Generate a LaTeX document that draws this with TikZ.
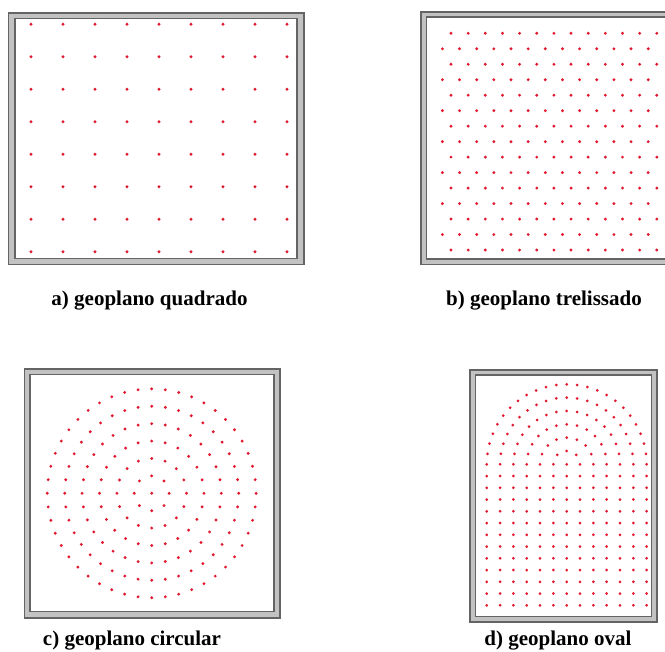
\documentclass[tikz,border=0pt]{standalone}
\usepackage{fontspec}
\setmainfont{Liberation Serif}

\definecolor{corpino}{RGB}{226,24,46}
\definecolor{cinzaclaro}{RGB}{194,194,194}
\definecolor{cinzaescuro}{RGB}{100,100,100}

\tikzstyle{every node}=[font=\bfseries\fontsize{21}{25}\selectfont]
\tikzstyle{moldura}=[fill=cinzaclaro, draw=cinzaescuro, line width=1.3pt]
\tikzstyle{tabua}=[fill=white, draw=cinzaescuro, line width=1.3pt]
\tikzstyle{pino}=[fill=corpino]

\begin{document}
\begin{tikzpicture}[x=1pt, y=-1pt]
            \useasboundingbox (0,0) rectangle (665,652);
            \clip (0,0) rectangle (665,652);

            % a) geoplano quadrado
            \begin{scope}[shift={(8.5,13)}]
                \draw[moldura] (0,0) rectangle (295.5,251.5);
                \draw[tabua] (6.5,5.5) rectangle (288.5,245.5);
                \foreach \i in {0,...,8}
                    \foreach \j in {0,...,7}
                        \fill[pino] (22.5+32*\i, 11.3+32.5*\j) circle (1.7pt);
                \node[anchor=base] (rotA) at (141,293) {a) geoplano quadrado};
            \end{scope}

            % b) geoplano trelissado
            \begin{scope}[shift={(421,12)}]
                \draw[moldura] (0,0) rectangle (254,252.5);
                \draw[tabua] (5.5,5) rectangle (249,247);
                \foreach \j in {0,...,14}
                    \foreach \i in {0,...,12}
                        \fill[pino] ({30+17.15*\i-8.6*mod(\j,2)}, {21.3+15.48*\j}) circle (1.6pt);
                \node[anchor=base] (rotB) at (123,294) {b) geoplano trelissado};
            \end{scope}

            % c) geoplano circular
            \begin{scope}[shift={(24.3,369)}]
                \draw[moldura] (0,0) rectangle (255.7,249);
                \draw[tabua] (5.7,5.5) rectangle (249.7,242.5);
                \coordinate (centroC) at (127.4,124.3);
                \fill[pino] (centroC) circle (1.6pt);
                \foreach \k in {1,...,6} {
                    \pgfmathtruncatemacro\n{8*\k}
                    \foreach \m in {1,...,\n}
                        \fill[pino] (centroC) ++({360/\n*\m}:{17.4*\k}) circle (1.6pt);
                }
                \node[anchor=base] (rotC) at (107.7,276) {c) geoplano circular};
            \end{scope}

            % d) geoplano oval
            \begin{scope}[shift={(470,370)}]
                \draw[moldura] (0,0) rectangle (187,252);
                \draw[tabua] (5.5,5) rectangle (181.5,246.5);
                \coordinate (centroD) at (96.7,94.3);
                \foreach \i in {-6,...,6}
                    \foreach \j in {0,...,12}
                        \fill[pino] (96.7+13.33*\i, 94.3+11.75*\j) circle (1.5pt);
                \foreach \k in {1,...,6} {
                    \pgfmathtruncatemacro\n{4*\k-1}
                    \foreach \m in {1,...,\n}
                        \fill[pino] (centroD) ++({-45/\k*\m}:{13.33*\k}) circle (1.5pt);
                }
                \node[anchor=base] (rotD) at (88,275) {d) geoplano oval};
            \end{scope}
        \end{tikzpicture}
\end{document}
